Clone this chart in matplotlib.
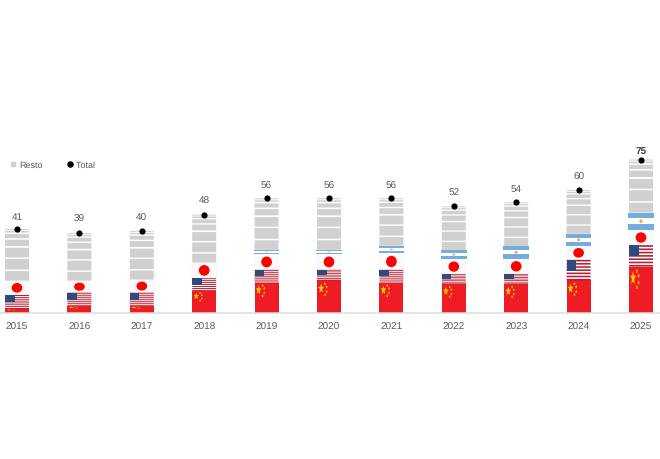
import numpy as np
import matplotlib
matplotlib.use("Agg")
import matplotlib.pyplot as plt
from matplotlib.lines import Line2D
from matplotlib.patches import Ellipse, Polygon, Rectangle

years = ["2015", "2016", "2017", "2018", "2019", "2020", "2021", "2022", "2023", "2024", "2025"]
china = [1.7, 3.3, 3.3, 10.6, 14.7, 15.7, 14.7, 13.9, 13.9, 15.7, 22.5]
usa = [6.9, 6.4, 6.4, 6.2, 6.2, 5.2, 6.2, 4.9, 5.0, 10.1, 10.5]
japan = [7.0, 5.9, 6.5, 7.7, 7.8, 7.8, 8.2, 7.4, 7.5, 6.9, 7.5]
argentina = [0, 0, 0, 0, 2.0, 2.0, 3.6, 4.4, 6.2, 5.9, 8.5]
resto = [25.4, 23.4, 23.8, 23.5, 25.3, 25.3, 23.3, 21.4, 21.4, 21.4, 26.0]
total = [41, 39, 40, 48, 56, 56, 56, 52, 54, 60, 75]

PX_X = 62.4
PX_Y = 2.04
TEXT = "#595959"
plt.rcParams["font.family"] = ["Liberation Sans", "DejaVu Sans"]
plt.rcParams["text.hinting"] = "no_hinting"
plt.rcParams["text.hinting_factor"] = 1

fig = plt.figure(figsize=(6.6, 4.6), dpi=100)
ax = fig.add_axes([0, 146.5 / 460, 1, 313.5 / 460])
ax.set_xlim(-17 / PX_X, (660 - 17) / PX_X)
ax.set_ylim(0, 313.5 / PX_Y)
ax.patch.set_alpha(0)
for s in ("top", "left", "right"):
    ax.spines[s].set_visible(False)
ax.spines["bottom"].set_color("#DDDDDD")
ax.spines["bottom"].set_linewidth(1.1)
ax.set_yticks([])
x = np.arange(len(years))
ax.set_xticks(x, years)
ax.tick_params(axis="x", length=0, pad=6.5, labelsize=7.3, labelcolor=TEXT)

W = 24 / PX_X
WF = 25.5 / PX_X
STAR_GOLD = "#FFCC00"


def star(cx, cy, rx, ry, color=STAR_GOLD):
    ang = np.pi / 2 + np.arange(10) * np.pi / 5
    r = np.where(np.arange(10) % 2 == 0, 1.0, 0.45)
    pts = np.column_stack([cx + rx * r * np.cos(ang), cy + ry * r * np.sin(ang)])
    ax.add_patch(Polygon(pts, closed=True, fc=color, ec="none", zorder=4))


def draw_china(i, b, h):
    ax.bar(i, h, W, b, color="#EE1C25", zorder=2, linewidth=0)
    left = i - W / 2
    star(left + W * 0.17, b + h * 0.75, W * 0.12, h * 0.16)
    for fx, fy in ((0.33, 0.9), (0.40, 0.8), (0.40, 0.65), (0.33, 0.55)):
        star(left + W * fx, b + h * fy, W * 0.05, h * 0.06)


def draw_usa(i, b, h):
    ax.bar(i, h, W, b, color="white", zorder=2, linewidth=0)
    step = h / 13
    for k in range(0, 13, 2):
        ax.bar(i, step, W, b + k * step, color="#B22234", zorder=3, linewidth=0, snap=False)
    ax.add_patch(Rectangle((i - W / 2, b + h * 0.48), W * 0.4, h * 0.52,
                           fc="#2F4B7C", ec="none", zorder=4))


def draw_japan(i, b, h):
    ax.bar(i, h, WF, b, color="#FAFAFA", zorder=2, linewidth=0)
    ax.add_patch(Ellipse((i, b + h / 2), WF * 0.42, h * 0.68, fc="#FF0000", ec="none", zorder=4))


def draw_argentina(i, b, h):
    if h <= 0:
        return
    ax.bar(i, h, WF, b, color="white", zorder=2, linewidth=0)
    ax.bar(i, h / 3, WF, b, color="#74ACDF", zorder=3, linewidth=0)
    ax.bar(i, h / 3, WF, b + 2 * h / 3, color="#74ACDF", zorder=3, linewidth=0)
    ax.add_patch(Ellipse((i, b + h / 2), WF * 0.13, h * 0.22, fc="#E8AE50", ec="none", zorder=4))


RESTO_BANDS = [(0, .02), (.04, .07), (.1, .18), (.21, .33),
               (.365, .55), (.58, .785), (.815, 1.0)]


def draw_resto(i, b, h):
    for f0, f1 in RESTO_BANDS:
        ax.bar(i, h * (f1 - f0), W, b + h * (1 - f1), color="#D0D0D0", zorder=2, linewidth=0, snap=False)


for i in x:
    base = 0.0
    for fn, vals in ((draw_china, china), (draw_usa, usa), (draw_japan, japan),
                     (draw_argentina, argentina), (draw_resto, resto)):
        fn(i, base, vals[i])
        base += vals[i]

ax.scatter(x, total, s=20, color="black", zorder=6, linewidths=0)
label_offsets = [12, 15, 14, 14, 13, 13, 13, 14, 14, 14, 9]
for i, t in zip(x, total):
    last = i == len(years) - 1
    ax.annotate(str(t), (i, t), xytext=(0, label_offsets[i] * 0.72), textcoords="offset points",
                ha="center", va="center", fontsize=7.4, color="#404040" if last else TEXT,
                fontweight="bold" if last else "normal", zorder=7)

handles = [
    Line2D([], [], ls="none", marker="s", ms=3.4, color="#D0D0D0", label="Resto"),
    Line2D([], [], ls="none", marker="o", ms=3.7, color="black", label="Total"),
]
fig.legend(handles=handles, loc="center left", bbox_to_anchor=(0.0, 1 - 166 / 460), ncol=2,
           frameon=False, fontsize=6.8, labelcolor=TEXT, handletextpad=-0.4,
           columnspacing=1.9, borderpad=0.4, borderaxespad=0)

fig.savefig("out.png", dpi=100, facecolor="white")
